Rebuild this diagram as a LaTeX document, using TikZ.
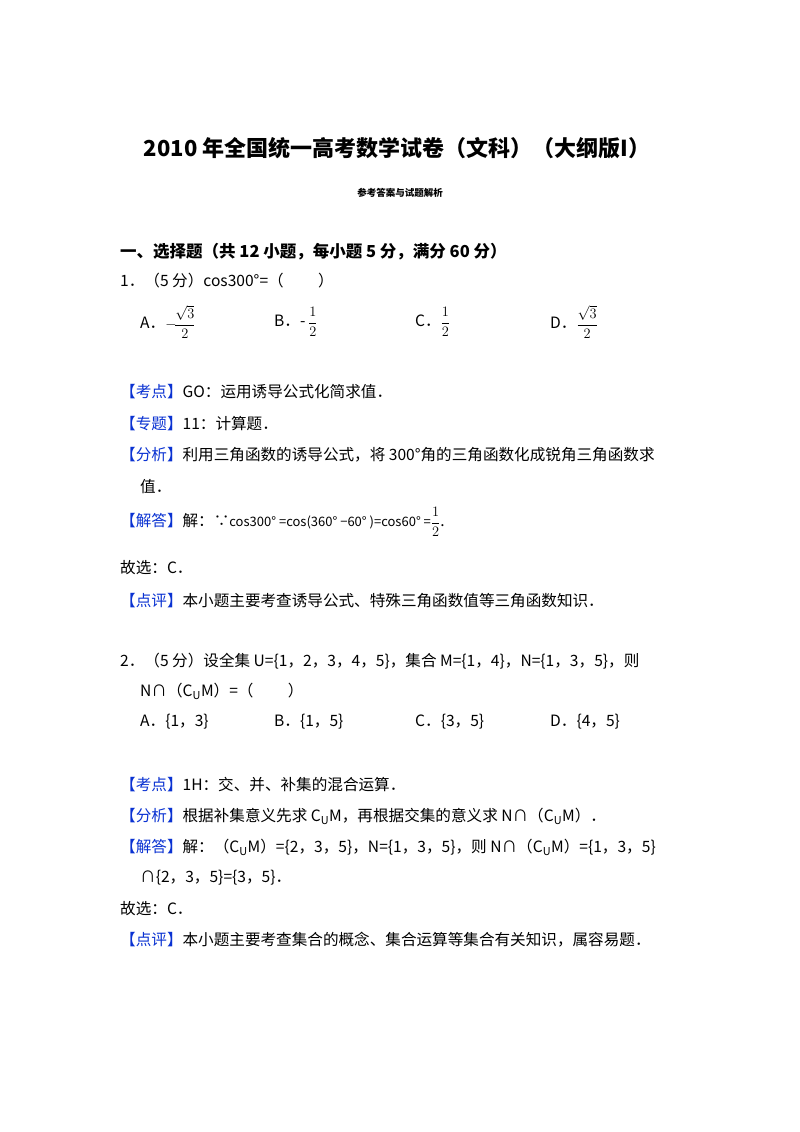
\documentclass[tikz,border=0pt]{standalone}
\usepackage{fontspec}
\setmainfont{Noto Sans CJK SC}
\definecolor{lbl}{RGB}{10,50,210}
\newcommand{\tg}[1]{\textcolor{lbl}{【#1】}}
\newcommand{\fr}[2]{$\displaystyle\frac{#1}{#2}$}
\begin{document}
\begin{tikzpicture}[x=1pt,y=-1pt,t/.style={anchor=west,inner sep=0pt,font=\fontsize{15.6}{18}\selectfont}]
\useasboundingbox (0,0) rectangle (800,1132);
\fill[white] (0,0) rectangle (800,1132);
\node[anchor=center,inner sep=0pt,font=\fontsize{22}{26}\selectfont\bfseries] (title) at (397,148) {2010 年全国统一高考数学试卷（文科）（大纲版I）};
\node[anchor=center,inner sep=0pt,font=\fontsize{9.5}{11}\selectfont\bfseries] (sub) at (400,193) {参考答案与试题解析};
\node[t,font=\fontsize{16.5}{19}\selectfont\bfseries] (sec) at (120,252) {一、选择题（共 12 小题，每小题 5 分，满分 60 分）};
\node[t] (q1) at (120,281) {1．（5 分）cos300°=（\hspace{2.2em}）};
\node[t] (q1a) at (140,322) {A．$\displaystyle-\!\frac{\sqrt3}{2}$};
\node[t] (q1b) at (274,322) {B．-\,\fr12};
\node[t] (q1c) at (415,322) {C．\fr12};
\node[t] (q1d) at (550,322) {D．\fr{\sqrt3}{2}};
\node[t] (k1) at (120,392) {\tg{考点}GO：运用诱导公式化简求值．};
\node[t] (z1) at (120,424) {\tg{专题}11：计算题．};
\node[t] (f1) at (120,455) {\tg{分析}利用三角函数的诱导公式，将 300°角的三角函数化成锐角三角函数求};
\node[t] (f1b) at (140,487) {值．};
\node[t] (j1) at (120,522) {\tg{解答}解：∵{\fontsize{13}{15}\selectfont cos300° =cos(360° −60° )=cos60° =}\fr12.};
\node[t] (g1) at (120,568) {故选：C．};
\node[t] (d1) at (120,601) {\tg{点评}本小题主要考查诱导公式、特殊三角函数值等三角函数知识．};
\node[t] (q2) at (120,661) {2．（5 分）设全集 U=\{1，2，3，4，5\}，集合 M=\{1，4\}，N=\{1，3，5\}，则};
\node[t] (q2b) at (140,691) {N∩（C\textsubscript{U}M）=（\hspace{2.2em}）};
\node[t] (q2a) at (140,722) {A．\{1，3\}};
\node[t] (q2bb) at (274,722) {B．\{1，5\}};
\node[t] (q2c) at (415,722) {C．\{3，5\}};
\node[t] (q2d) at (550,722) {D．\{4，5\}};
\node[t] (k2) at (120,785) {\tg{考点}1H：交、并、补集的混合运算．};
\node[t] (f2) at (120,816) {\tg{分析}根据补集意义先求 C\textsubscript{U}M，再根据交集的意义求 N∩（C\textsubscript{U}M）．};
\node[t] (j2) at (120,847) {\tg{解答}解：（C\textsubscript{U}M）=\{2，3，5\}，N=\{1，3，5\}，则 N∩（C\textsubscript{U}M）=\{1，3，5\}};
\node[t] (j2b) at (140,878) {∩\{2，3，5\}=\{3，5\}．};
\node[t] (g2) at (120,909) {故选：C．};
\node[t] (d2) at (120,940) {\tg{点评}本小题主要考查集合的概念、集合运算等集合有关知识，属容易题．};
\end{tikzpicture}
\end{document}
